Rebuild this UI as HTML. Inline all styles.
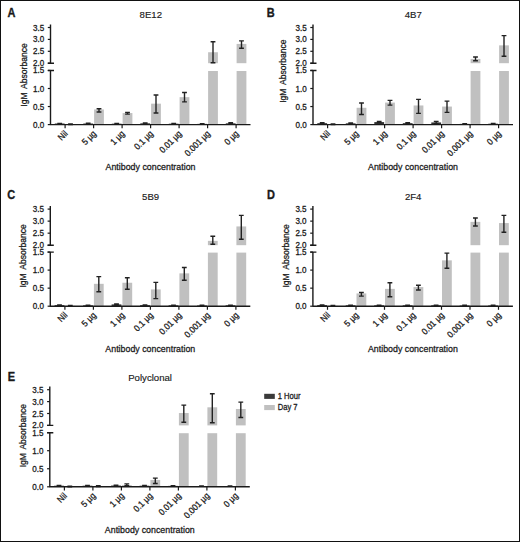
<!DOCTYPE html>
<html><head><meta charset="utf-8"><style>
html,body{margin:0;padding:0;background:#fff;}
#f{position:relative;width:520px;height:542px;box-sizing:border-box;border:1px solid #111;overflow:hidden;background:#fff;}
svg{position:absolute;left:-1px;top:-1px;}
</style></head><body><div id="f">
<svg width="520" height="542" viewBox="0 0 520 542" font-family='"Liberation Sans", sans-serif' fill="#1a1a1a" stroke-linejoin="round">
<style>text{stroke:#1a1a1a;stroke-width:0.28px;}</style>
<text transform="translate(7.40,17.00) scale(0.9,1)" font-size="12.2" font-weight="bold" style="stroke-width:0.35px">A</text>
<text x="150.80" y="18.00" font-size="9.6" text-anchor="middle" style="stroke-width:0.15px">8E12</text>
<text transform="translate(26.90,75.00) rotate(-90) scale(0.872,1)" font-size="9.8" text-anchor="middle">IgM <tspan dx="1.3">Absorbance</tspan></text>
<text transform="translate(150.50,170.30) scale(0.903,1)" font-size="9.8" text-anchor="middle">Antibody concentration</text>
<rect x="54.80" y="123.52" width="9.8" height="1.08" fill="#333333"/>
<path d="M59.70 123.34V123.70M57.30 123.34H62.10M57.30 123.70H62.10" stroke="#222" stroke-width="1.4" fill="none"/>
<rect x="65.60" y="124.24" width="9.8" height="0.36" fill="#c0c0c0"/>
<path d="M70.50 123.88V124.60M68.10 123.88H72.90M68.10 124.60H72.90" stroke="#222" stroke-width="1.4" fill="none"/>
<path d="M65.10 124.60V128.20" stroke="#1a1a1a" stroke-width="1.2"/>
<text transform="translate(68.30,134.20) rotate(-45) scale(0.907,1)" font-size="9" text-anchor="end">Nil</text>
<rect x="83.30" y="123.52" width="9.8" height="1.08" fill="#333333"/>
<path d="M88.20 123.16V123.88M85.80 123.16H90.60M85.80 123.88H90.60" stroke="#222" stroke-width="1.4" fill="none"/>
<rect x="94.10" y="109.44" width="9.8" height="15.16" fill="#c0c0c0"/>
<path d="M99.00 108.72V111.96M96.60 108.72H101.40M96.60 111.96H101.40" stroke="#222" stroke-width="1.4" fill="none"/>
<path d="M93.60 124.60V128.20" stroke="#1a1a1a" stroke-width="1.2"/>
<text transform="translate(96.80,134.20) rotate(-45) scale(0.907,1)" font-size="9" text-anchor="end">5 µg</text>
<rect x="111.80" y="123.70" width="9.8" height="0.90" fill="#333333"/>
<path d="M116.70 123.52V123.88M114.30 123.52H119.10M114.30 123.88H119.10" stroke="#222" stroke-width="1.4" fill="none"/>
<rect x="122.60" y="113.05" width="9.8" height="11.55" fill="#c0c0c0"/>
<path d="M127.50 112.33V114.13M125.10 112.33H129.90M125.10 114.13H129.90" stroke="#222" stroke-width="1.4" fill="none"/>
<path d="M122.10 124.60V128.20" stroke="#1a1a1a" stroke-width="1.2"/>
<text transform="translate(125.30,134.20) rotate(-45) scale(0.907,1)" font-size="9" text-anchor="end">1 µg</text>
<rect x="140.30" y="123.34" width="9.8" height="1.26" fill="#333333"/>
<path d="M145.20 122.98V123.70M142.80 122.98H147.60M142.80 123.70H147.60" stroke="#222" stroke-width="1.4" fill="none"/>
<rect x="151.10" y="103.66" width="9.8" height="20.94" fill="#c0c0c0"/>
<path d="M156.00 95.00V113.05M153.60 95.00H158.40M153.60 113.05H158.40" stroke="#222" stroke-width="1.4" fill="none"/>
<path d="M150.60 124.60V128.20" stroke="#1a1a1a" stroke-width="1.2"/>
<text transform="translate(153.80,134.20) rotate(-45) scale(0.907,1)" font-size="9" text-anchor="end">0.1 µg</text>
<rect x="168.80" y="123.70" width="9.8" height="0.90" fill="#333333"/>
<path d="M173.70 123.52V123.88M171.30 123.52H176.10M171.30 123.88H176.10" stroke="#222" stroke-width="1.4" fill="none"/>
<rect x="179.60" y="97.16" width="9.8" height="27.44" fill="#c0c0c0"/>
<path d="M184.50 92.47V101.86M182.10 92.47H186.90M182.10 101.86H186.90" stroke="#222" stroke-width="1.4" fill="none"/>
<path d="M179.10 124.60V128.20" stroke="#1a1a1a" stroke-width="1.2"/>
<text transform="translate(182.30,134.20) rotate(-45) scale(0.907,1)" font-size="9" text-anchor="end">0.01 µg</text>
<rect x="197.30" y="123.88" width="9.8" height="0.72" fill="#333333"/>
<path d="M202.20 123.70V124.06M199.80 123.70H204.60M199.80 124.06H204.60" stroke="#222" stroke-width="1.4" fill="none"/>
<rect x="208.10" y="71.00" width="9.8" height="53.60" fill="#c0c0c0"/>
<rect x="208.10" y="52.25" width="9.8" height="10.95" fill="#c0c0c0"/>
<path d="M213.00 41.78V62.72M210.60 41.78H215.40M210.60 62.72H215.40" stroke="#222" stroke-width="1.4" fill="none"/>
<path d="M207.60 124.60V128.20" stroke="#1a1a1a" stroke-width="1.2"/>
<text transform="translate(210.80,134.20) rotate(-45) scale(0.907,1)" font-size="9" text-anchor="end">0.001 µg</text>
<rect x="225.80" y="123.34" width="9.8" height="1.26" fill="#333333"/>
<path d="M230.70 122.79V123.88M228.30 122.79H233.10M228.30 123.88H233.10" stroke="#222" stroke-width="1.4" fill="none"/>
<rect x="236.60" y="71.00" width="9.8" height="53.60" fill="#c0c0c0"/>
<rect x="236.60" y="43.92" width="9.8" height="19.28" fill="#c0c0c0"/>
<path d="M241.50 40.83V48.21M239.10 40.83H243.90M239.10 48.21H243.90" stroke="#222" stroke-width="1.4" fill="none"/>
<path d="M236.10 124.60V128.20" stroke="#1a1a1a" stroke-width="1.2"/>
<text transform="translate(239.30,134.20) rotate(-45) scale(0.907,1)" font-size="9" text-anchor="end">0 µg</text>
<path d="M50.50 24.40V63.20M47.80 63.20H54.00M50.50 70.50V124.60H250.50M47.80 70.50H54.00" stroke="#1a1a1a" stroke-width="1.4" fill="none"/>
<path d="M47.80 27.50H50.50" stroke="#1a1a1a" stroke-width="1.2"/>
<text transform="translate(44.20,30.50) scale(0.95,1)" font-size="8.5" text-anchor="end">3.5</text>
<path d="M47.80 39.40H50.50" stroke="#1a1a1a" stroke-width="1.2"/>
<text transform="translate(44.20,42.40) scale(0.95,1)" font-size="8.5" text-anchor="end">3.0</text>
<path d="M47.80 51.30H50.50" stroke="#1a1a1a" stroke-width="1.2"/>
<text transform="translate(44.20,54.30) scale(0.95,1)" font-size="8.5" text-anchor="end">2.5</text>
<path d="M47.80 63.20H50.50" stroke="#1a1a1a" stroke-width="1.2"/>
<text transform="translate(44.20,66.20) scale(0.95,1)" font-size="8.5" text-anchor="end">2.0</text>
<path d="M47.80 70.45H50.50" stroke="#1a1a1a" stroke-width="1.2"/>
<text transform="translate(44.20,73.45) scale(0.95,1)" font-size="8.5" text-anchor="end">1.5</text>
<path d="M47.80 88.50H50.50" stroke="#1a1a1a" stroke-width="1.2"/>
<text transform="translate(44.20,91.50) scale(0.95,1)" font-size="8.5" text-anchor="end">1.0</text>
<path d="M47.80 106.55H50.50" stroke="#1a1a1a" stroke-width="1.2"/>
<text transform="translate(44.20,109.55) scale(0.95,1)" font-size="8.5" text-anchor="end">0.5</text>
<path d="M47.80 124.60H50.50" stroke="#1a1a1a" stroke-width="1.2"/>
<text transform="translate(44.20,127.60) scale(0.95,1)" font-size="8.5" text-anchor="end">0.0</text>
<text transform="translate(266.70,17.00) scale(0.9,1)" font-size="12.2" font-weight="bold" style="stroke-width:0.35px">B</text>
<text x="413.30" y="18.00" font-size="9.6" text-anchor="middle" style="stroke-width:0.15px">4B7</text>
<text transform="translate(286.20,71.10) rotate(-90) scale(0.872,1)" font-size="9.8" text-anchor="middle">IgM <tspan dx="1.3">Absorbance</tspan></text>
<text transform="translate(413.00,170.30) scale(0.903,1)" font-size="9.8" text-anchor="middle">Antibody concentration</text>
<rect x="317.30" y="123.16" width="9.8" height="1.44" fill="#333333"/>
<path d="M322.20 122.79V123.52M319.80 122.79H324.60M319.80 123.52H324.60" stroke="#222" stroke-width="1.4" fill="none"/>
<rect x="328.10" y="124.24" width="9.8" height="0.36" fill="#c0c0c0"/>
<path d="M333.00 123.88V124.60M330.60 123.88H335.40M330.60 124.60H335.40" stroke="#222" stroke-width="1.4" fill="none"/>
<path d="M327.60 124.60V128.20" stroke="#1a1a1a" stroke-width="1.2"/>
<text transform="translate(330.80,134.20) rotate(-45) scale(0.907,1)" font-size="9" text-anchor="end">Nil</text>
<rect x="345.80" y="123.34" width="9.8" height="1.26" fill="#333333"/>
<path d="M350.70 122.98V123.70M348.30 122.98H353.10M348.30 123.70H353.10" stroke="#222" stroke-width="1.4" fill="none"/>
<rect x="356.60" y="107.78" width="9.8" height="16.82" fill="#c0c0c0"/>
<path d="M361.50 102.94V114.49M359.10 102.94H363.90M359.10 114.49H363.90" stroke="#222" stroke-width="1.4" fill="none"/>
<path d="M356.10 124.60V128.20" stroke="#1a1a1a" stroke-width="1.2"/>
<text transform="translate(359.30,134.20) rotate(-45) scale(0.907,1)" font-size="9" text-anchor="end">5 µg</text>
<rect x="374.30" y="122.07" width="9.8" height="2.53" fill="#333333"/>
<path d="M379.20 121.35V122.79M376.80 121.35H381.60M376.80 122.79H381.60" stroke="#222" stroke-width="1.4" fill="none"/>
<rect x="385.10" y="102.58" width="9.8" height="22.02" fill="#c0c0c0"/>
<path d="M390.00 100.41V105.11M387.60 100.41H392.40M387.60 105.11H392.40" stroke="#222" stroke-width="1.4" fill="none"/>
<path d="M384.60 124.60V128.20" stroke="#1a1a1a" stroke-width="1.2"/>
<text transform="translate(387.80,134.20) rotate(-45) scale(0.907,1)" font-size="9" text-anchor="end">1 µg</text>
<rect x="402.80" y="123.16" width="9.8" height="1.44" fill="#333333"/>
<path d="M407.70 122.79V123.52M405.30 122.79H410.10M405.30 123.52H410.10" stroke="#222" stroke-width="1.4" fill="none"/>
<rect x="413.60" y="105.47" width="9.8" height="19.13" fill="#c0c0c0"/>
<path d="M418.50 99.33V113.41M416.10 99.33H420.90M416.10 113.41H420.90" stroke="#222" stroke-width="1.4" fill="none"/>
<path d="M413.10 124.60V128.20" stroke="#1a1a1a" stroke-width="1.2"/>
<text transform="translate(416.30,134.20) rotate(-45) scale(0.907,1)" font-size="9" text-anchor="end">0.1 µg</text>
<rect x="431.30" y="122.43" width="9.8" height="2.17" fill="#333333"/>
<path d="M436.20 121.35V123.52M433.80 121.35H438.60M433.80 123.52H438.60" stroke="#222" stroke-width="1.4" fill="none"/>
<rect x="442.10" y="106.55" width="9.8" height="18.05" fill="#c0c0c0"/>
<path d="M447.00 101.13V112.33M444.60 101.13H449.40M444.60 112.33H449.40" stroke="#222" stroke-width="1.4" fill="none"/>
<path d="M441.60 124.60V128.20" stroke="#1a1a1a" stroke-width="1.2"/>
<text transform="translate(444.80,134.20) rotate(-45) scale(0.907,1)" font-size="9" text-anchor="end">0.01 µg</text>
<rect x="459.80" y="123.88" width="9.8" height="0.72" fill="#333333"/>
<path d="M464.70 123.70V124.06M462.30 123.70H467.10M462.30 124.06H467.10" stroke="#222" stroke-width="1.4" fill="none"/>
<rect x="470.60" y="71.00" width="9.8" height="53.60" fill="#c0c0c0"/>
<rect x="470.60" y="58.92" width="9.8" height="4.28" fill="#c0c0c0"/>
<path d="M475.50 57.01V60.82M473.10 57.01H477.90M473.10 60.82H477.90" stroke="#222" stroke-width="1.4" fill="none"/>
<path d="M470.10 124.60V128.20" stroke="#1a1a1a" stroke-width="1.2"/>
<text transform="translate(473.30,134.20) rotate(-45) scale(0.907,1)" font-size="9" text-anchor="end">0.001 µg</text>
<rect x="488.30" y="123.70" width="9.8" height="0.90" fill="#333333"/>
<path d="M493.20 123.52V123.88M490.80 123.52H495.60M490.80 123.88H495.60" stroke="#222" stroke-width="1.4" fill="none"/>
<rect x="499.10" y="71.00" width="9.8" height="53.60" fill="#c0c0c0"/>
<rect x="499.10" y="45.35" width="9.8" height="17.85" fill="#c0c0c0"/>
<path d="M504.00 35.59V56.30M501.60 35.59H506.40M501.60 56.30H506.40" stroke="#222" stroke-width="1.4" fill="none"/>
<path d="M498.60 124.60V128.20" stroke="#1a1a1a" stroke-width="1.2"/>
<text transform="translate(501.80,134.20) rotate(-45) scale(0.907,1)" font-size="9" text-anchor="end">0 µg</text>
<path d="M313.00 24.40V63.20M310.30 63.20H316.50M313.00 70.50V124.60H513.00M310.30 70.50H316.50" stroke="#1a1a1a" stroke-width="1.4" fill="none"/>
<path d="M310.30 27.50H313.00" stroke="#1a1a1a" stroke-width="1.2"/>
<text transform="translate(306.70,30.50) scale(0.95,1)" font-size="8.5" text-anchor="end">3.5</text>
<path d="M310.30 39.40H313.00" stroke="#1a1a1a" stroke-width="1.2"/>
<text transform="translate(306.70,42.40) scale(0.95,1)" font-size="8.5" text-anchor="end">3.0</text>
<path d="M310.30 51.30H313.00" stroke="#1a1a1a" stroke-width="1.2"/>
<text transform="translate(306.70,54.30) scale(0.95,1)" font-size="8.5" text-anchor="end">2.5</text>
<path d="M310.30 63.20H313.00" stroke="#1a1a1a" stroke-width="1.2"/>
<text transform="translate(306.70,66.20) scale(0.95,1)" font-size="8.5" text-anchor="end">2.0</text>
<path d="M310.30 70.45H313.00" stroke="#1a1a1a" stroke-width="1.2"/>
<text transform="translate(306.70,73.45) scale(0.95,1)" font-size="8.5" text-anchor="end">1.5</text>
<path d="M310.30 88.50H313.00" stroke="#1a1a1a" stroke-width="1.2"/>
<text transform="translate(306.70,91.50) scale(0.95,1)" font-size="8.5" text-anchor="end">1.0</text>
<path d="M310.30 106.55H313.00" stroke="#1a1a1a" stroke-width="1.2"/>
<text transform="translate(306.70,109.55) scale(0.95,1)" font-size="8.5" text-anchor="end">0.5</text>
<path d="M310.30 124.60H313.00" stroke="#1a1a1a" stroke-width="1.2"/>
<text transform="translate(306.70,127.60) scale(0.95,1)" font-size="8.5" text-anchor="end">0.0</text>
<text transform="translate(7.20,199.00) scale(0.9,1)" font-size="12.2" font-weight="bold" style="stroke-width:0.35px">C</text>
<text x="150.60" y="199.60" font-size="9.6" text-anchor="middle" style="stroke-width:0.15px">5B9</text>
<text transform="translate(26.30,255.90) rotate(-90) scale(0.872,1)" font-size="9.8" text-anchor="middle">IgM <tspan dx="1.3">Absorbance</tspan></text>
<text transform="translate(150.30,351.90) scale(0.903,1)" font-size="9.8" text-anchor="middle">Antibody concentration</text>
<rect x="54.60" y="305.12" width="9.8" height="1.08" fill="#333333"/>
<path d="M59.50 304.94V305.30M57.10 304.94H61.90M57.10 305.30H61.90" stroke="#222" stroke-width="1.4" fill="none"/>
<rect x="65.40" y="305.84" width="9.8" height="0.36" fill="#c0c0c0"/>
<path d="M70.30 305.48V306.20M67.90 305.48H72.70M67.90 306.20H72.70" stroke="#222" stroke-width="1.4" fill="none"/>
<path d="M64.90 306.20V309.80" stroke="#1a1a1a" stroke-width="1.2"/>
<text transform="translate(68.10,315.80) rotate(-45) scale(0.907,1)" font-size="9" text-anchor="end">Nil</text>
<rect x="83.10" y="305.30" width="9.8" height="0.90" fill="#333333"/>
<path d="M88.00 305.12V305.48M85.60 305.12H90.40M85.60 305.48H90.40" stroke="#222" stroke-width="1.4" fill="none"/>
<rect x="93.90" y="283.82" width="9.8" height="22.38" fill="#c0c0c0"/>
<path d="M98.80 276.60V291.76M96.40 276.60H101.20M96.40 291.76H101.20" stroke="#222" stroke-width="1.4" fill="none"/>
<path d="M93.40 306.20V309.80" stroke="#1a1a1a" stroke-width="1.2"/>
<text transform="translate(96.60,315.80) rotate(-45) scale(0.907,1)" font-size="9" text-anchor="end">5 µg</text>
<rect x="111.60" y="304.39" width="9.8" height="1.81" fill="#333333"/>
<path d="M116.50 303.85V304.94M114.10 303.85H118.90M114.10 304.94H118.90" stroke="#222" stroke-width="1.4" fill="none"/>
<rect x="122.40" y="282.74" width="9.8" height="23.46" fill="#c0c0c0"/>
<path d="M127.30 277.68V289.23M124.90 277.68H129.70M124.90 289.23H129.70" stroke="#222" stroke-width="1.4" fill="none"/>
<path d="M121.90 306.20V309.80" stroke="#1a1a1a" stroke-width="1.2"/>
<text transform="translate(125.10,315.80) rotate(-45) scale(0.907,1)" font-size="9" text-anchor="end">1 µg</text>
<rect x="140.10" y="305.12" width="9.8" height="1.08" fill="#333333"/>
<path d="M145.00 304.94V305.30M142.60 304.94H147.40M142.60 305.30H147.40" stroke="#222" stroke-width="1.4" fill="none"/>
<rect x="150.90" y="289.41" width="9.8" height="16.79" fill="#c0c0c0"/>
<path d="M155.80 282.37V298.62M153.40 282.37H158.20M153.40 298.62H158.20" stroke="#222" stroke-width="1.4" fill="none"/>
<path d="M150.40 306.20V309.80" stroke="#1a1a1a" stroke-width="1.2"/>
<text transform="translate(153.60,315.80) rotate(-45) scale(0.907,1)" font-size="9" text-anchor="end">0.1 µg</text>
<rect x="168.60" y="305.30" width="9.8" height="0.90" fill="#333333"/>
<path d="M173.50 305.12V305.48M171.10 305.12H175.90M171.10 305.48H175.90" stroke="#222" stroke-width="1.4" fill="none"/>
<rect x="179.40" y="273.35" width="9.8" height="32.85" fill="#c0c0c0"/>
<path d="M184.30 267.57V280.21M181.90 267.57H186.70M181.90 280.21H186.70" stroke="#222" stroke-width="1.4" fill="none"/>
<path d="M178.90 306.20V309.80" stroke="#1a1a1a" stroke-width="1.2"/>
<text transform="translate(182.10,315.80) rotate(-45) scale(0.907,1)" font-size="9" text-anchor="end">0.01 µg</text>
<rect x="197.10" y="305.48" width="9.8" height="0.72" fill="#333333"/>
<path d="M202.00 305.30V305.66M199.60 305.30H204.40M199.60 305.66H204.40" stroke="#222" stroke-width="1.4" fill="none"/>
<rect x="207.90" y="252.60" width="9.8" height="53.60" fill="#c0c0c0"/>
<rect x="207.90" y="240.87" width="9.8" height="4.33" fill="#c0c0c0"/>
<path d="M212.80 236.30V244.24M210.40 236.30H215.20M210.40 244.24H215.20" stroke="#222" stroke-width="1.4" fill="none"/>
<path d="M207.40 306.20V309.80" stroke="#1a1a1a" stroke-width="1.2"/>
<text transform="translate(210.60,315.80) rotate(-45) scale(0.907,1)" font-size="9" text-anchor="end">0.001 µg</text>
<rect x="225.60" y="305.30" width="9.8" height="0.90" fill="#333333"/>
<path d="M230.50 305.12V305.48M228.10 305.12H232.90M228.10 305.48H232.90" stroke="#222" stroke-width="1.4" fill="none"/>
<rect x="236.40" y="252.60" width="9.8" height="53.60" fill="#c0c0c0"/>
<rect x="236.40" y="226.43" width="9.8" height="18.77" fill="#c0c0c0"/>
<path d="M241.30 215.36V239.18M238.90 215.36H243.70M238.90 239.18H243.70" stroke="#222" stroke-width="1.4" fill="none"/>
<path d="M235.90 306.20V309.80" stroke="#1a1a1a" stroke-width="1.2"/>
<text transform="translate(239.10,315.80) rotate(-45) scale(0.907,1)" font-size="9" text-anchor="end">0 µg</text>
<path d="M50.30 206.00V245.20M47.60 245.20H53.80M50.30 252.10V306.20H250.30M47.60 252.10H53.80" stroke="#1a1a1a" stroke-width="1.4" fill="none"/>
<path d="M47.60 209.10H50.30" stroke="#1a1a1a" stroke-width="1.2"/>
<text transform="translate(44.00,212.10) scale(0.95,1)" font-size="8.5" text-anchor="end">3.5</text>
<path d="M47.60 221.13H50.30" stroke="#1a1a1a" stroke-width="1.2"/>
<text transform="translate(44.00,224.13) scale(0.95,1)" font-size="8.5" text-anchor="end">3.0</text>
<path d="M47.60 233.17H50.30" stroke="#1a1a1a" stroke-width="1.2"/>
<text transform="translate(44.00,236.17) scale(0.95,1)" font-size="8.5" text-anchor="end">2.5</text>
<path d="M47.60 245.20H50.30" stroke="#1a1a1a" stroke-width="1.2"/>
<text transform="translate(44.00,248.20) scale(0.95,1)" font-size="8.5" text-anchor="end">2.0</text>
<path d="M47.60 252.05H50.30" stroke="#1a1a1a" stroke-width="1.2"/>
<text transform="translate(44.00,255.05) scale(0.95,1)" font-size="8.5" text-anchor="end">1.5</text>
<path d="M47.60 270.10H50.30" stroke="#1a1a1a" stroke-width="1.2"/>
<text transform="translate(44.00,273.10) scale(0.95,1)" font-size="8.5" text-anchor="end">1.0</text>
<path d="M47.60 288.15H50.30" stroke="#1a1a1a" stroke-width="1.2"/>
<text transform="translate(44.00,291.15) scale(0.95,1)" font-size="8.5" text-anchor="end">0.5</text>
<path d="M47.60 306.20H50.30" stroke="#1a1a1a" stroke-width="1.2"/>
<text transform="translate(44.00,309.20) scale(0.95,1)" font-size="8.5" text-anchor="end">0.0</text>
<text transform="translate(267.00,199.10) scale(0.9,1)" font-size="12.2" font-weight="bold" style="stroke-width:0.35px">D</text>
<text x="413.20" y="199.60" font-size="9.6" text-anchor="middle" style="stroke-width:0.15px">2F4</text>
<text transform="translate(289.10,255.90) rotate(-90) scale(0.872,1)" font-size="9.8" text-anchor="middle">IgM <tspan dx="1.3">Absorbance</tspan></text>
<text transform="translate(412.90,351.90) scale(0.903,1)" font-size="9.8" text-anchor="middle">Antibody concentration</text>
<rect x="317.20" y="305.12" width="9.8" height="1.08" fill="#333333"/>
<path d="M322.10 304.94V305.30M319.70 304.94H324.50M319.70 305.30H324.50" stroke="#222" stroke-width="1.4" fill="none"/>
<rect x="328.00" y="305.84" width="9.8" height="0.36" fill="#c0c0c0"/>
<path d="M332.90 305.48V306.20M330.50 305.48H335.30M330.50 306.20H335.30" stroke="#222" stroke-width="1.4" fill="none"/>
<path d="M327.50 306.20V309.80" stroke="#1a1a1a" stroke-width="1.2"/>
<text transform="translate(330.70,315.80) rotate(-45) scale(0.907,1)" font-size="9" text-anchor="end">Nil</text>
<rect x="345.70" y="305.30" width="9.8" height="0.90" fill="#333333"/>
<path d="M350.60 305.12V305.48M348.20 305.12H353.00M348.20 305.48H353.00" stroke="#222" stroke-width="1.4" fill="none"/>
<rect x="356.50" y="293.42" width="9.8" height="12.78" fill="#c0c0c0"/>
<path d="M361.40 292.48V296.09M359.00 292.48H363.80M359.00 296.09H363.80" stroke="#222" stroke-width="1.4" fill="none"/>
<path d="M356.00 306.20V309.80" stroke="#1a1a1a" stroke-width="1.2"/>
<text transform="translate(359.20,315.80) rotate(-45) scale(0.907,1)" font-size="9" text-anchor="end">5 µg</text>
<rect x="374.20" y="305.30" width="9.8" height="0.90" fill="#333333"/>
<path d="M379.10 305.12V305.48M376.70 305.12H381.50M376.70 305.48H381.50" stroke="#222" stroke-width="1.4" fill="none"/>
<rect x="385.00" y="288.87" width="9.8" height="17.33" fill="#c0c0c0"/>
<path d="M389.90 282.74V296.81M387.50 282.74H392.30M387.50 296.81H392.30" stroke="#222" stroke-width="1.4" fill="none"/>
<path d="M384.50 306.20V309.80" stroke="#1a1a1a" stroke-width="1.2"/>
<text transform="translate(387.70,315.80) rotate(-45) scale(0.907,1)" font-size="9" text-anchor="end">1 µg</text>
<rect x="402.70" y="305.30" width="9.8" height="0.90" fill="#333333"/>
<path d="M407.60 305.12V305.48M405.20 305.12H410.00M405.20 305.48H410.00" stroke="#222" stroke-width="1.4" fill="none"/>
<rect x="413.50" y="287.07" width="9.8" height="19.13" fill="#c0c0c0"/>
<path d="M418.40 285.26V289.95M416.00 285.26H420.80M416.00 289.95H420.80" stroke="#222" stroke-width="1.4" fill="none"/>
<path d="M413.00 306.20V309.80" stroke="#1a1a1a" stroke-width="1.2"/>
<text transform="translate(416.20,315.80) rotate(-45) scale(0.907,1)" font-size="9" text-anchor="end">0.1 µg</text>
<rect x="431.20" y="305.30" width="9.8" height="0.90" fill="#333333"/>
<path d="M436.10 305.12V305.48M433.70 305.12H438.50M433.70 305.48H438.50" stroke="#222" stroke-width="1.4" fill="none"/>
<rect x="442.00" y="260.35" width="9.8" height="45.85" fill="#c0c0c0"/>
<path d="M446.90 253.13V268.29M444.50 253.13H449.30M444.50 268.29H449.30" stroke="#222" stroke-width="1.4" fill="none"/>
<path d="M441.50 306.20V309.80" stroke="#1a1a1a" stroke-width="1.2"/>
<text transform="translate(444.70,315.80) rotate(-45) scale(0.907,1)" font-size="9" text-anchor="end">0.01 µg</text>
<rect x="459.70" y="305.48" width="9.8" height="0.72" fill="#333333"/>
<path d="M464.60 305.30V305.66M462.20 305.30H467.00M462.20 305.66H467.00" stroke="#222" stroke-width="1.4" fill="none"/>
<rect x="470.50" y="252.60" width="9.8" height="53.60" fill="#c0c0c0"/>
<rect x="470.50" y="221.86" width="9.8" height="23.34" fill="#c0c0c0"/>
<path d="M475.40 218.00V225.95M473.00 218.00H477.80M473.00 225.95H477.80" stroke="#222" stroke-width="1.4" fill="none"/>
<path d="M470.00 306.20V309.80" stroke="#1a1a1a" stroke-width="1.2"/>
<text transform="translate(473.20,315.80) rotate(-45) scale(0.907,1)" font-size="9" text-anchor="end">0.001 µg</text>
<rect x="488.20" y="305.48" width="9.8" height="0.72" fill="#333333"/>
<path d="M493.10 305.30V305.66M490.70 305.30H495.50M490.70 305.66H495.50" stroke="#222" stroke-width="1.4" fill="none"/>
<rect x="499.00" y="252.60" width="9.8" height="53.60" fill="#c0c0c0"/>
<rect x="499.00" y="223.06" width="9.8" height="22.14" fill="#c0c0c0"/>
<path d="M503.90 215.36V232.20M501.50 215.36H506.30M501.50 232.20H506.30" stroke="#222" stroke-width="1.4" fill="none"/>
<path d="M498.50 306.20V309.80" stroke="#1a1a1a" stroke-width="1.2"/>
<text transform="translate(501.70,315.80) rotate(-45) scale(0.907,1)" font-size="9" text-anchor="end">0 µg</text>
<path d="M312.90 206.00V245.20M310.20 245.20H316.40M312.90 252.10V306.20H512.90M310.20 252.10H316.40" stroke="#1a1a1a" stroke-width="1.4" fill="none"/>
<path d="M310.20 209.10H312.90" stroke="#1a1a1a" stroke-width="1.2"/>
<text transform="translate(306.60,212.10) scale(0.95,1)" font-size="8.5" text-anchor="end">3.5</text>
<path d="M310.20 221.13H312.90" stroke="#1a1a1a" stroke-width="1.2"/>
<text transform="translate(306.60,224.13) scale(0.95,1)" font-size="8.5" text-anchor="end">3.0</text>
<path d="M310.20 233.17H312.90" stroke="#1a1a1a" stroke-width="1.2"/>
<text transform="translate(306.60,236.17) scale(0.95,1)" font-size="8.5" text-anchor="end">2.5</text>
<path d="M310.20 245.20H312.90" stroke="#1a1a1a" stroke-width="1.2"/>
<text transform="translate(306.60,248.20) scale(0.95,1)" font-size="8.5" text-anchor="end">2.0</text>
<path d="M310.20 252.05H312.90" stroke="#1a1a1a" stroke-width="1.2"/>
<text transform="translate(306.60,255.05) scale(0.95,1)" font-size="8.5" text-anchor="end">1.5</text>
<path d="M310.20 270.10H312.90" stroke="#1a1a1a" stroke-width="1.2"/>
<text transform="translate(306.60,273.10) scale(0.95,1)" font-size="8.5" text-anchor="end">1.0</text>
<path d="M310.20 288.15H312.90" stroke="#1a1a1a" stroke-width="1.2"/>
<text transform="translate(306.60,291.15) scale(0.95,1)" font-size="8.5" text-anchor="end">0.5</text>
<path d="M310.20 306.20H312.90" stroke="#1a1a1a" stroke-width="1.2"/>
<text transform="translate(306.60,309.20) scale(0.95,1)" font-size="8.5" text-anchor="end">0.0</text>
<text transform="translate(7.70,380.80) scale(0.9,1)" font-size="12.2" font-weight="bold" style="stroke-width:0.35px">E</text>
<text x="150.10" y="381.20" font-size="9.6" text-anchor="middle" style="stroke-width:0.15px">Polyclonal</text>
<text transform="translate(26.30,435.70) rotate(-90) scale(0.872,1)" font-size="9.8" text-anchor="middle">IgM <tspan dx="1.3">Absorbance</tspan></text>
<text transform="translate(149.80,533.00) scale(0.903,1)" font-size="9.8" text-anchor="middle">Antibody concentration</text>
<rect x="54.10" y="485.72" width="9.8" height="1.08" fill="#333333"/>
<path d="M59.00 485.54V485.90M56.60 485.54H61.40M56.60 485.90H61.40" stroke="#222" stroke-width="1.4" fill="none"/>
<rect x="64.90" y="486.44" width="9.8" height="0.36" fill="#c0c0c0"/>
<path d="M69.80 486.08V486.80M67.40 486.08H72.20M67.40 486.80H72.20" stroke="#222" stroke-width="1.4" fill="none"/>
<path d="M64.40 486.80V490.40" stroke="#1a1a1a" stroke-width="1.2"/>
<text transform="translate(67.60,496.40) rotate(-45) scale(0.907,1)" font-size="9" text-anchor="end">Nil</text>
<rect x="82.60" y="485.72" width="9.8" height="1.08" fill="#333333"/>
<path d="M87.50 485.54V485.90M85.10 485.54H89.90M85.10 485.90H89.90" stroke="#222" stroke-width="1.4" fill="none"/>
<rect x="93.40" y="486.08" width="9.8" height="0.72" fill="#c0c0c0"/>
<path d="M98.30 485.72V486.44M95.90 485.72H100.70M95.90 486.44H100.70" stroke="#222" stroke-width="1.4" fill="none"/>
<path d="M92.90 486.80V490.40" stroke="#1a1a1a" stroke-width="1.2"/>
<text transform="translate(96.10,496.40) rotate(-45) scale(0.907,1)" font-size="9" text-anchor="end">5 µg</text>
<rect x="111.10" y="485.54" width="9.8" height="1.26" fill="#333333"/>
<path d="M116.00 485.18V485.90M113.60 485.18H118.40M113.60 485.90H118.40" stroke="#222" stroke-width="1.4" fill="none"/>
<rect x="121.90" y="485.00" width="9.8" height="1.80" fill="#c0c0c0"/>
<path d="M126.80 483.91V485.72M124.40 483.91H129.20M124.40 485.72H129.20" stroke="#222" stroke-width="1.4" fill="none"/>
<path d="M121.40 486.80V490.40" stroke="#1a1a1a" stroke-width="1.2"/>
<text transform="translate(124.60,496.40) rotate(-45) scale(0.907,1)" font-size="9" text-anchor="end">1 µg</text>
<rect x="139.60" y="485.72" width="9.8" height="1.08" fill="#333333"/>
<path d="M144.50 485.54V485.90M142.10 485.54H146.90M142.10 485.90H146.90" stroke="#222" stroke-width="1.4" fill="none"/>
<rect x="150.40" y="479.94" width="9.8" height="6.86" fill="#c0c0c0"/>
<path d="M155.30 478.14V483.55M152.90 478.14H157.70M152.90 483.55H157.70" stroke="#222" stroke-width="1.4" fill="none"/>
<path d="M149.90 486.80V490.40" stroke="#1a1a1a" stroke-width="1.2"/>
<text transform="translate(153.10,496.40) rotate(-45) scale(0.907,1)" font-size="9" text-anchor="end">0.1 µg</text>
<rect x="168.10" y="485.90" width="9.8" height="0.90" fill="#333333"/>
<path d="M173.00 485.72V486.08M170.60 485.72H175.40M170.60 486.08H175.40" stroke="#222" stroke-width="1.4" fill="none"/>
<rect x="178.90" y="433.20" width="9.8" height="53.60" fill="#c0c0c0"/>
<rect x="178.90" y="413.02" width="9.8" height="12.38" fill="#c0c0c0"/>
<path d="M183.80 405.17V422.31M181.40 405.17H186.20M181.40 422.31H186.20" stroke="#222" stroke-width="1.4" fill="none"/>
<path d="M178.40 486.80V490.40" stroke="#1a1a1a" stroke-width="1.2"/>
<text transform="translate(181.60,496.40) rotate(-45) scale(0.907,1)" font-size="9" text-anchor="end">0.01 µg</text>
<rect x="196.60" y="486.08" width="9.8" height="0.72" fill="#333333"/>
<path d="M201.50 485.90V486.26M199.10 485.90H203.90M199.10 486.26H203.90" stroke="#222" stroke-width="1.4" fill="none"/>
<rect x="207.40" y="433.20" width="9.8" height="53.60" fill="#c0c0c0"/>
<rect x="207.40" y="407.31" width="9.8" height="18.09" fill="#c0c0c0"/>
<path d="M212.30 393.75V422.78M209.90 393.75H214.70M209.90 422.78H214.70" stroke="#222" stroke-width="1.4" fill="none"/>
<path d="M206.90 486.80V490.40" stroke="#1a1a1a" stroke-width="1.2"/>
<text transform="translate(210.10,496.40) rotate(-45) scale(0.907,1)" font-size="9" text-anchor="end">0.001 µg</text>
<rect x="225.10" y="486.08" width="9.8" height="0.72" fill="#333333"/>
<path d="M230.00 485.90V486.26M227.60 485.90H232.40M227.60 486.26H232.40" stroke="#222" stroke-width="1.4" fill="none"/>
<rect x="235.90" y="433.20" width="9.8" height="53.60" fill="#c0c0c0"/>
<rect x="235.90" y="408.98" width="9.8" height="16.42" fill="#c0c0c0"/>
<path d="M240.80 402.08V417.55M238.40 402.08H243.20M238.40 417.55H243.20" stroke="#222" stroke-width="1.4" fill="none"/>
<path d="M235.40 486.80V490.40" stroke="#1a1a1a" stroke-width="1.2"/>
<text transform="translate(238.60,496.40) rotate(-45) scale(0.907,1)" font-size="9" text-anchor="end">0 µg</text>
<path d="M49.80 386.60V425.40M47.10 425.40H53.30M49.80 432.70V486.80H249.80M47.10 432.70H53.30" stroke="#1a1a1a" stroke-width="1.4" fill="none"/>
<path d="M47.10 389.70H49.80" stroke="#1a1a1a" stroke-width="1.2"/>
<text transform="translate(43.50,392.70) scale(0.95,1)" font-size="8.5" text-anchor="end">3.5</text>
<path d="M47.10 401.60H49.80" stroke="#1a1a1a" stroke-width="1.2"/>
<text transform="translate(43.50,404.60) scale(0.95,1)" font-size="8.5" text-anchor="end">3.0</text>
<path d="M47.10 413.50H49.80" stroke="#1a1a1a" stroke-width="1.2"/>
<text transform="translate(43.50,416.50) scale(0.95,1)" font-size="8.5" text-anchor="end">2.5</text>
<path d="M47.10 425.40H49.80" stroke="#1a1a1a" stroke-width="1.2"/>
<text transform="translate(43.50,428.40) scale(0.95,1)" font-size="8.5" text-anchor="end">2.0</text>
<path d="M47.10 432.65H49.80" stroke="#1a1a1a" stroke-width="1.2"/>
<text transform="translate(43.50,435.65) scale(0.95,1)" font-size="8.5" text-anchor="end">1.5</text>
<path d="M47.10 450.70H49.80" stroke="#1a1a1a" stroke-width="1.2"/>
<text transform="translate(43.50,453.70) scale(0.95,1)" font-size="8.5" text-anchor="end">1.0</text>
<path d="M47.10 468.75H49.80" stroke="#1a1a1a" stroke-width="1.2"/>
<text transform="translate(43.50,471.75) scale(0.95,1)" font-size="8.5" text-anchor="end">0.5</text>
<path d="M47.10 486.80H49.80" stroke="#1a1a1a" stroke-width="1.2"/>
<text transform="translate(43.50,489.80) scale(0.95,1)" font-size="8.5" text-anchor="end">0.0</text>
<rect x="264.2" y="393.8" width="10.6" height="5.1" fill="#3a3a3a"/>
<rect x="264.2" y="405.0" width="10.6" height="5.1" fill="#c0c0c0"/>
<text transform="translate(277.7,398.9) scale(0.915,1)" font-size="8.3">1 Hour</text>
<text transform="translate(277.7,410.2) scale(0.915,1)" font-size="8.3">Day 7</text>
</svg></div></body></html>
